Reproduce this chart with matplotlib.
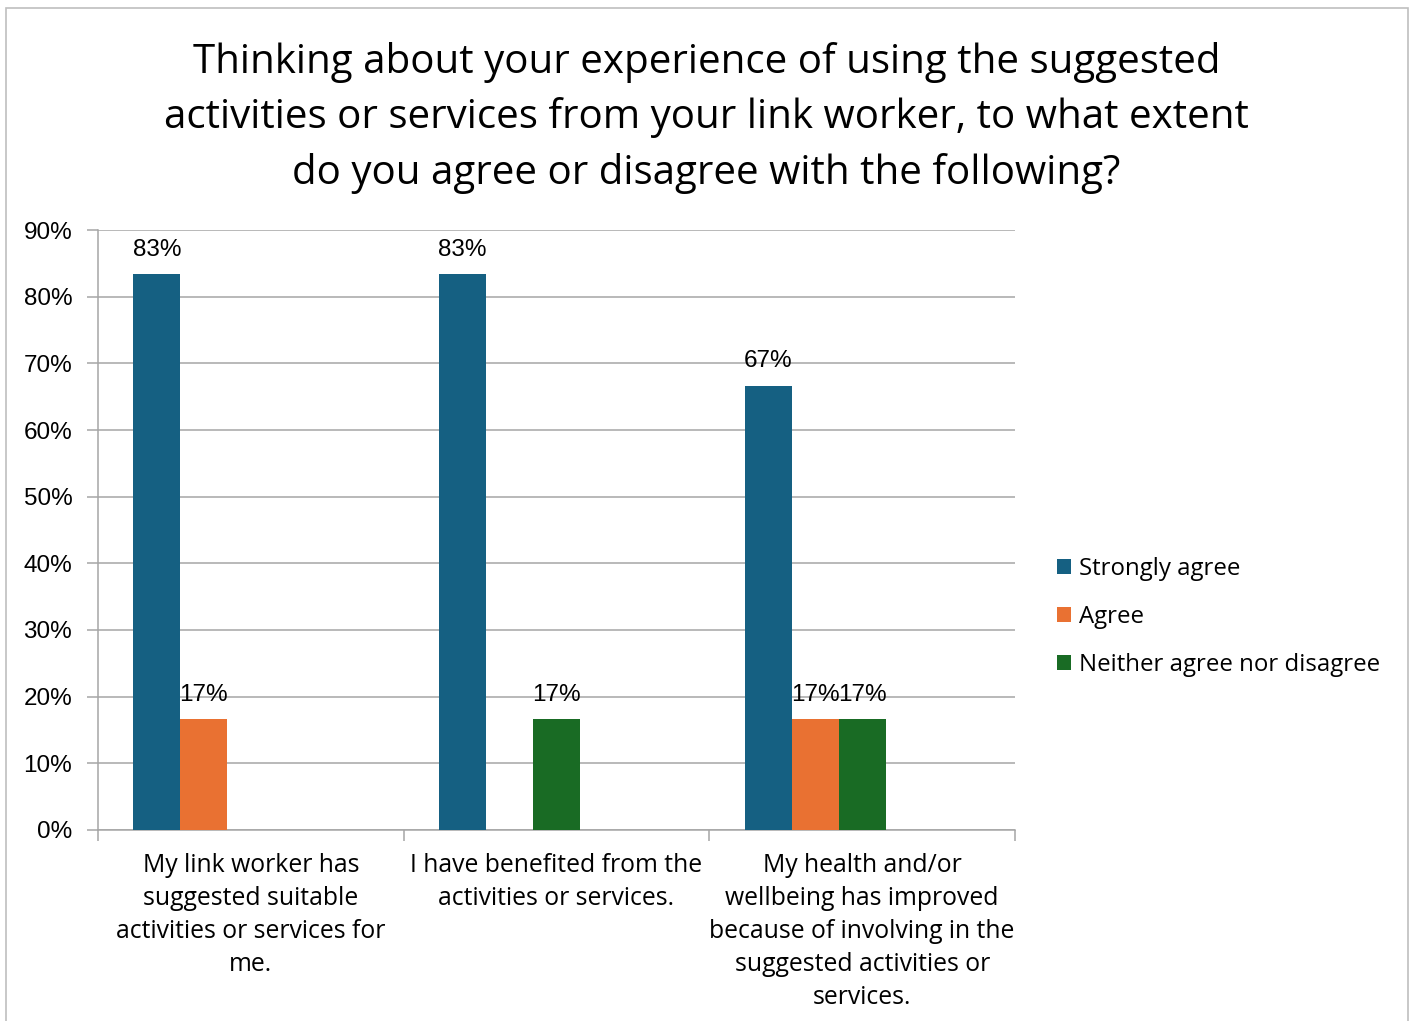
import numpy as np
import matplotlib.pyplot as plt
from matplotlib.patches import Rectangle

# survey answers, share of respondents per statement
categories = [
    "My link worker has\nsuggested suitable\nactivities or services for\nme.",
    "I have benefited from the\nactivities or services.",
    "My health and/or\nwellbeing has improved\nbecause of involving in the\nsuggested activities or\nservices.",
]
series_names = ["Strongly agree", "Agree", "Neither agree nor disagree", "Disagree", "Strongly disagree"]
strongly_agree = [83.33, 83.33, 66.67]
agree = [16.67, 0, 16.67]
neither = [0, 16.67, 16.67]
disagree = [0, 0, 0]
strongly_disagree = [0, 0, 0]
colors = ["#156082", "#E97132", "#196B24", "#0F9ED5", "#A02B93"]

title = ("Thinking about your experience of using the suggested\n"
         "activities or services from your link worker, to what extent\n"
         "do you agree or disagree with the following?")

fig = plt.figure(figsize=(14.13, 10.21), dpi=100)
fig.patches.append(Rectangle((6 / 1413, -0.01), 1402 / 1413, 1 - 8 / 1021 + 0.01,
                             transform=fig.transFigure, fill=False,
                             edgecolor="#BFBFBF", lw=1.2))

ax = fig.add_axes([98 / 1413, 1 - 830 / 1021, (1015 - 98) / 1413, 600 / 1021])

all_series = [strongly_agree, agree, neither, disagree, strongly_disagree]
n = len(all_series)
w = 1 / (n + 1.5)
x = np.arange(len(categories))
for i, vals in enumerate(all_series):
    pos = x + (i - (n - 1) / 2) * w
    bars = ax.bar(pos, vals, w, color=colors[i], label=series_names[i],
                  zorder=3)
    for xp, v in zip(pos, vals):
        if v > 0:
            ax.text(xp, v + 2.0, f"{v:.0f}%", ha="center", va="bottom",
                    fontsize=17.5, family="Liberation Sans", color="#000000")

ax.set_xlim(-0.5, len(categories) - 0.5)
ax.set_ylim(0, 90)
ax.set_yticks(np.arange(0, 91, 10))
ax.set_yticklabels([f"{t}%" for t in range(0, 91, 10)],
                   fontsize=17.5, family="Liberation Sans")
ax.yaxis.grid(True, color="#A6A6A6", lw=1.1, zorder=0)
ax.tick_params(axis="y", length=8, color="#A6A6A6", width=1.1, pad=10.5)

# ticks at the boundaries between categories, labels centred
ax.set_xticks(np.arange(-0.5, len(categories)), minor=False)
ax.set_xticklabels([])
ax.tick_params(axis="x", length=8, color="#A6A6A6", width=1.1)
for xi, lab in zip(x, categories):
    ax.text(xi, -3.5, lab, ha="center", va="top", fontsize=17.8,
            family="Open Sans", linespacing=1.42, color="#000000")

for side in ["top", "right"]:
    ax.spines[side].set_visible(False)
for side in ["left", "bottom"]:
    ax.spines[side].set_color("#A6A6A6")
    ax.spines[side].set_linewidth(1.1)

handles, labels = ax.get_legend_handles_labels()
leg = fig.legend(handles[:3], labels[:3], loc="center left",
                 bbox_to_anchor=(1035 / 1413, 1 - 617 / 1021), frameon=False,
                 prop={"family": "Open Sans", "size": 17.3},
                 handlelength=0.6, handleheight=0.6, handletextpad=0.35,
                 labelspacing=1.0)

fig.text(0.5, 1 - 118 / 1021, title, ha="center", va="center",
         fontsize=29, family="Open Sans", linespacing=1.47, color="#000000")

fig.savefig("out.png", dpi=100)
